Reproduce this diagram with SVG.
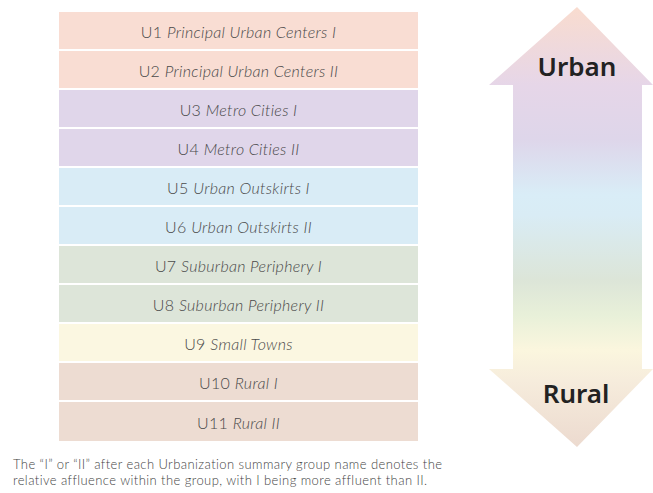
<svg xmlns="http://www.w3.org/2000/svg" width="653" height="493" viewBox="0 0 653 493">
<defs>
<linearGradient id="ag" x1="0" y1="7" x2="0" y2="447" gradientUnits="userSpaceOnUse">
<stop offset="0" stop-color="#f9dccf"/>
<stop offset="0.177" stop-color="#e6d6e8"/>
<stop offset="0.302" stop-color="#ded6ea"/>
<stop offset="0.427" stop-color="#d9edf7"/>
<stop offset="0.473" stop-color="#d9ecf5"/>
<stop offset="0.62" stop-color="#dce5d8"/>
<stop offset="0.7" stop-color="#e8f0d9"/>
<stop offset="0.78" stop-color="#fbf6de"/>
<stop offset="0.85" stop-color="#f6ecdc"/>
<stop offset="1" stop-color="#ecdacf"/>
</linearGradient>
<style>
.row text{font-family:Lato,"Liberation Sans",sans-serif;font-weight:300;font-size:16px;letter-spacing:0.3px;fill:#4a4a4a;text-anchor:middle}
.row tspan.i{font-style:italic}
.c1{fill:#f9ddd3}.c2{fill:#e0d6ea}.c3{fill:#d9ecf6}.c4{fill:#dde5d9}.c5{fill:#fbf7e1}.c6{fill:#eddcd2}
.lbl{font-family:"Noto Sans","Liberation Sans",sans-serif;font-weight:600;font-size:26px;fill:#222;text-anchor:middle}
.note{font-family:Lato,"Liberation Sans",sans-serif;font-weight:300;font-size:13px;letter-spacing:0.42px;fill:#444}
</style>
</defs>
<rect width="653" height="493" fill="#fff"/>
<g id="u1" class="row"><rect class="c1" x="59" y="12" width="359" height="37"/><text x="238.5" y="37.5">U1 <tspan class="i">Principal Urban Centers I</tspan></text></g>
<g id="u2" class="row"><rect class="c1" x="59" y="51" width="359" height="37"/><text x="238.5" y="76.5">U2 <tspan class="i">Principal Urban Centers II</tspan></text></g>
<g id="u3" class="row"><rect class="c2" x="59" y="90" width="359" height="37"/><text x="238.5" y="115.5">U3 <tspan class="i">Metro Cities I</tspan></text></g>
<g id="u4" class="row"><rect class="c2" x="59" y="129" width="359" height="37"/><text x="238.5" y="154.5">U4 <tspan class="i">Metro Cities II</tspan></text></g>
<g id="u5" class="row"><rect class="c3" x="59" y="168" width="359" height="37"/><text x="238.5" y="193.5">U5 <tspan class="i">Urban Outskirts I</tspan></text></g>
<g id="u6" class="row"><rect class="c3" x="59" y="207" width="359" height="37"/><text x="238.5" y="232.5">U6 <tspan class="i">Urban Outskirts II</tspan></text></g>
<g id="u7" class="row"><rect class="c4" x="59" y="246" width="359" height="37"/><text x="238.5" y="271.5">U7 <tspan class="i">Suburban Periphery I</tspan></text></g>
<g id="u8" class="row"><rect class="c4" x="59" y="285" width="359" height="37"/><text x="238.5" y="310.5">U8 <tspan class="i">Suburban Periphery II</tspan></text></g>
<g id="u9" class="row"><rect class="c5" x="59" y="324" width="359" height="37"/><text x="238.5" y="349.5">U9 <tspan class="i">Small Towns</tspan></text></g>
<g id="u10" class="row"><rect class="c6" x="59" y="363" width="359" height="37"/><text x="238.5" y="388.5">U10 <tspan class="i">Rural I</tspan></text></g>
<g id="u11" class="row"><rect class="c6" x="59" y="402" width="359" height="39"/><text x="238.5" y="428.5">U11 <tspan class="i">Rural II</tspan></text></g>
<g id="arrow">
<path d="M577,7 L653,85 L642,85 L642,369 L653,369 L577,447 L489,369 L513,369 L513,85 L489,85 Z" fill="url(#ag)"/>
<text class="lbl" x="577" y="76">Urban</text>
<text class="lbl" x="576" y="403">Rural</text>
</g>
<g id="note">
<text class="note" x="13" y="469">The “I” or “II” after each Urbanization summary group name denotes the</text>
<text class="note" x="13" y="485">relative affluence within the group, with I being more affluent than II.</text>
</g>
</svg>
